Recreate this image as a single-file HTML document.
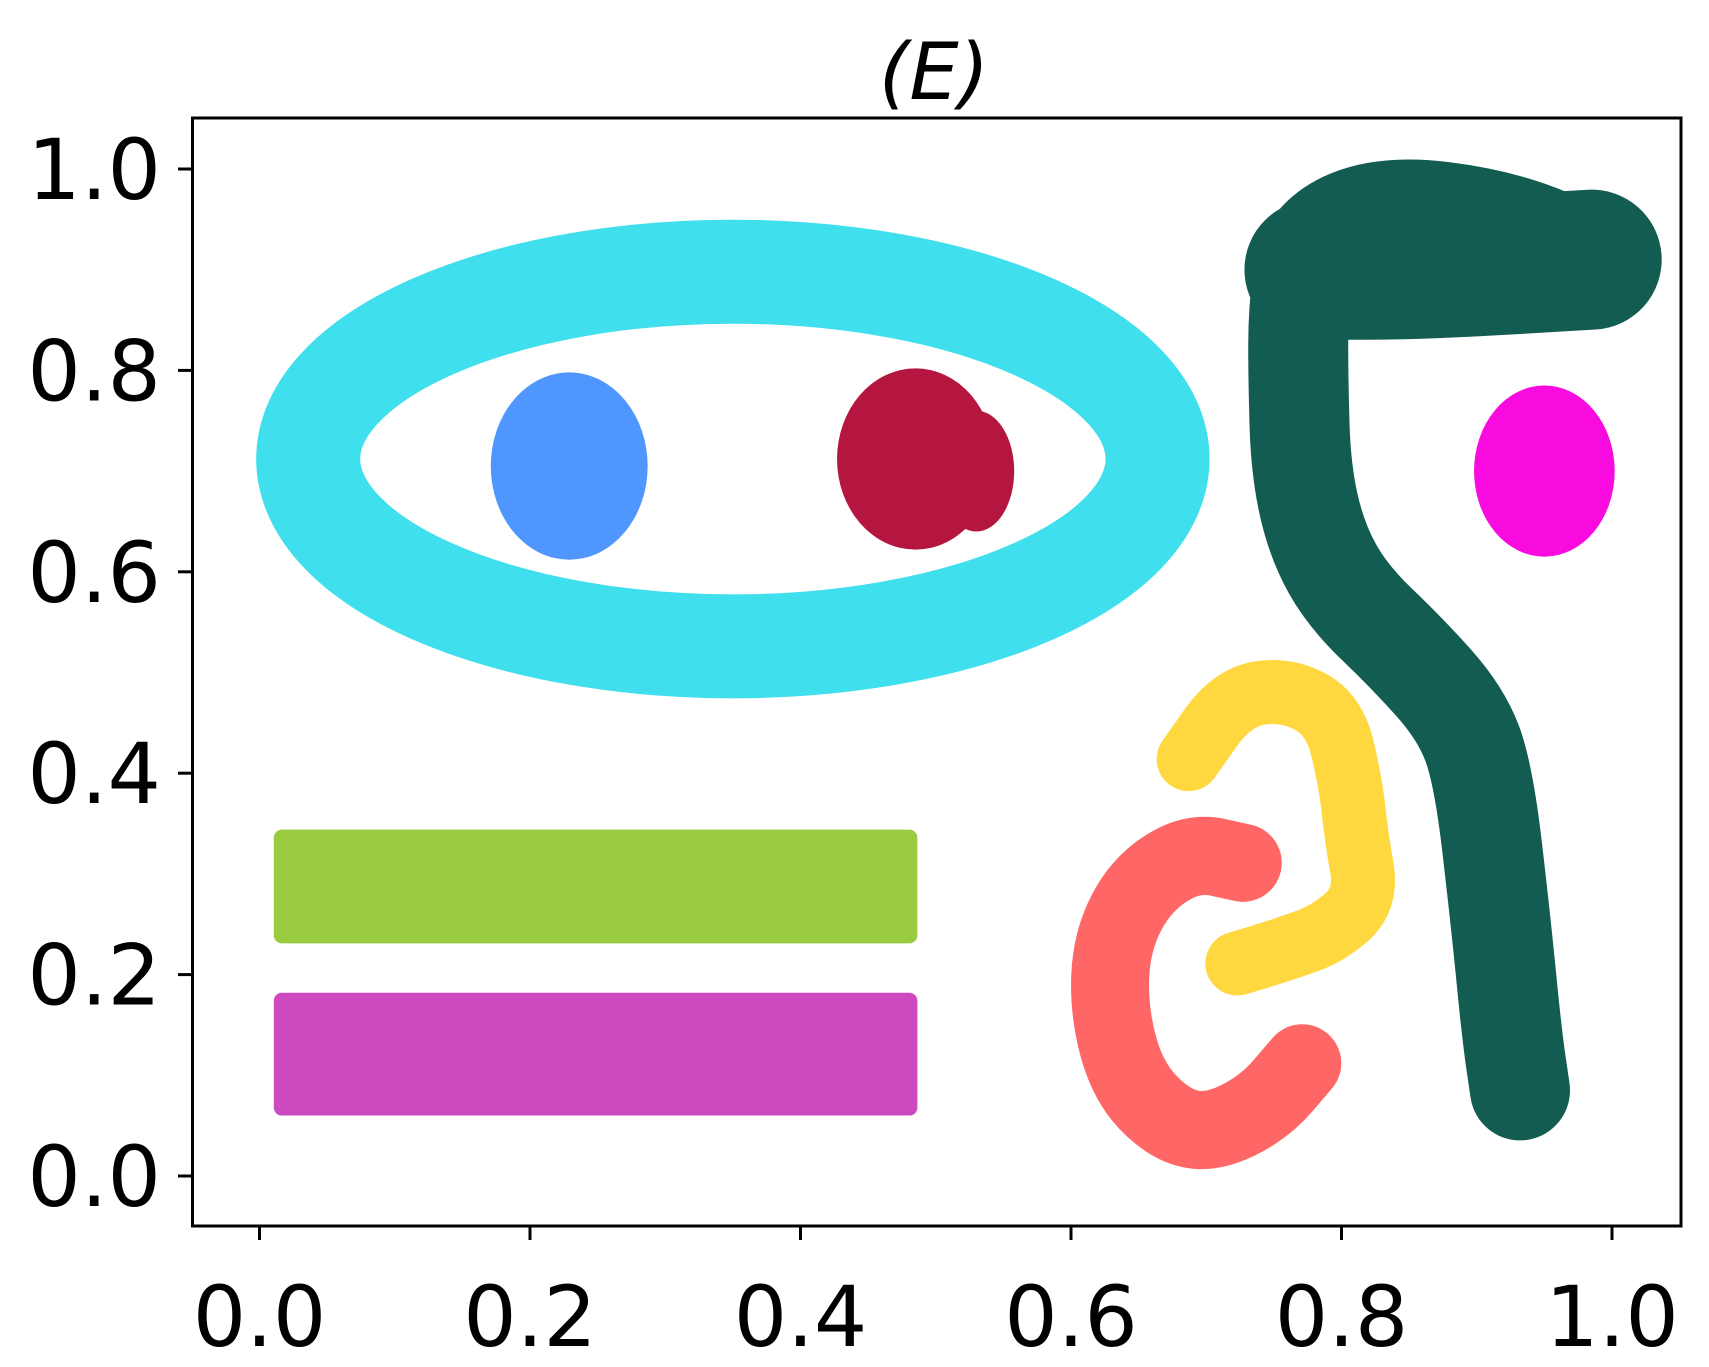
<!DOCTYPE html>
<html><head><meta charset="utf-8"><style>
html,body{margin:0;padding:0;background:#fff}
svg{display:block;font-family:"DejaVu Sans","Liberation Sans",sans-serif}
</style></head><body>
<svg id="chart" width="1709" height="1367" viewBox="0 0 1709 1367" xmlns="http://www.w3.org/2000/svg">
<rect width="1709" height="1367" fill="#fff"/>
<text x="934" y="99" font-size="78" font-style="italic" text-anchor="middle">(E)</text>
<g id="marks"></g>
<rect x="192.5" y="118" width="1488.5" height="1108" fill="none" stroke="#000" stroke-width="3"/>
<g id="axes"></g>
</svg>
<script>
const xTicks = [0.0, 0.2, 0.4, 0.6, 0.8, 1.0];
const yTicks = [0.0, 0.2, 0.4, 0.6, 0.8, 1.0];
const xTickLabels = ["0.0","0.2","0.4","0.6","0.8","1.0"];
const yTickLabels = ["0.0","0.2","0.4","0.6","0.8","1.0"];
// blobs: [cx, cy, rx, ry]
const blueBlob = [0.229, 0.705, 0.058, 0.093];
const redBlob = [0.485, 0.712, 0.058, 0.09];
const redBump = [0.53, 0.70, 0.028, 0.06];
const magentaBlob = [0.95, 0.70, 0.052, 0.085];
// ring: center x, center y, mid semi-axis x, mid semi-axis y
const cyanRing = [0.35, 0.712, 0.314, 0.186];
// bars: [x0, x1, y0, y1]
const greenBar = [0.015, 0.482, 0.237, 0.338];
const purpleBar = [0.015, 0.482, 0.066, 0.176];
// curved clusters: skeleton points
const yellowX = [0.687,0.719,0.759,0.795,0.807,0.811,0.819,0.791,0.755,0.723];
const yellowY = [0.414,0.475,0.484,0.458,0.388,0.337,0.276,0.241,0.224,0.211];
const salmonX = [0.727,0.69,0.652,0.63,0.628,0.642,0.672,0.703,0.743,0.771];
const salmonY = [0.311,0.322,0.29,0.233,0.163,0.094,0.052,0.042,0.068,0.112];
const tealX = [0.989,0.92,0.83,0.775,0.768,0.768,0.77,0.782,0.805,0.848,0.888,0.905,0.918,0.926,0.932];
const tealY = [0.91,0.95,0.965,0.93,0.86,0.79,0.70,0.63,0.575,0.52,0.46,0.40,0.25,0.14,0.085];
const tealTopX = [0.78,0.86,0.985];
const tealTopY = [0.90,0.90,0.91];

const X = v => 259.5 + v*1352.5;
const Y = v => 1176 - v*1007;
const SX = v => v*1352.5, SY = v => v*1007;
const NS = "http://www.w3.org/2000/svg";
const marks = document.getElementById('marks');
const axes = document.getElementById('axes');
function mk(tag, attrs, parent){const e=document.createElementNS(NS,tag);for(const k in attrs)e.setAttribute(k,attrs[k]);parent.appendChild(e);return e;}

let e = mk('ellipse',{cx:X(cyanRing[0]),cy:Y(cyanRing[1]),rx:SX(cyanRing[2]),ry:SY(cyanRing[3]),fill:'none',stroke:'#40DFEE','stroke-width':104},marks);



function blob(b,color,name){
  const el = mk('ellipse',{cx:X(b[0]),cy:Y(b[1]),rx:SX(b[2]),ry:SY(b[3]),fill:color},marks);
  
  
}
blob(blueBlob,'#4F97FF','blue-blob-cluster');
blob(redBlob,'#B5163F','red-blob-cluster');
blob(redBump,'#B5163F','red-blob-bump');
blob(magentaBlob,'#F90ADE','magenta-blob-cluster');

function bar(b,color,name){
  const el = mk('rect',{x:X(b[0])-6,y:Y(b[3])-6,width:SX(b[1]-b[0])+12,height:SY(b[3]-b[2])+12,rx:8,fill:color},marks);
  
  
}
bar(greenBar,'#99CC40','green-bar-cluster');
bar(purpleBar,'#CC49BF','purple-bar-cluster');

function curve(xs,ys,color,w,name){
  let d='';
  for(let i=0;i<xs.length;i++){
    if(i===0){d+='M'+X(xs[0])+' '+Y(ys[0]);continue;}
    const px=X(xs[i-1]),py=Y(ys[i-1]),cx=X(xs[i]),cy=Y(ys[i]);
    d+=' Q'+px+' '+py+' '+((px+cx)/2)+' '+((py+cy)/2);
  }
  d+=' L'+X(xs[xs.length-1])+' '+Y(ys[ys.length-1]);
  const el = mk('path',{d:d,fill:'none',stroke:color,'stroke-width':w,'stroke-linecap':'round','stroke-linejoin':'round'},marks);
  
  
}
curve(yellowX,yellowY,'#FFD83F',64,'yellow-arc-cluster');
curve(salmonX,salmonY,'#FF6666',78,'salmon-arc-cluster');
curve(tealX,tealY,'#135C51',100,'teal-curve-cluster');
curve(tealTopX,tealTopY,'#135C51',140,'teal-top-band');

xTicks.forEach((t,i)=>{
  const l = mk('line',{x1:X(t),x2:X(t),y1:1226,y2:1240,stroke:'#000','stroke-width':3},axes);
  
  
  const tx = mk('text',{x:X(t),y:1346,'font-size':84,'text-anchor':'middle'},axes);
  tx.textContent = xTickLabels[i];
  
  
});
yTicks.forEach((t,i)=>{
  const l = mk('line',{x1:178,x2:192.5,y1:Y(t),y2:Y(t),stroke:'#000','stroke-width':3},axes);
  
  
  const tx = mk('text',{x:161,y:Y(t)+30,'font-size':84,'text-anchor':'end'},axes);
  tx.textContent = yTickLabels[i];
  
  
});
</script>
</body></html>
